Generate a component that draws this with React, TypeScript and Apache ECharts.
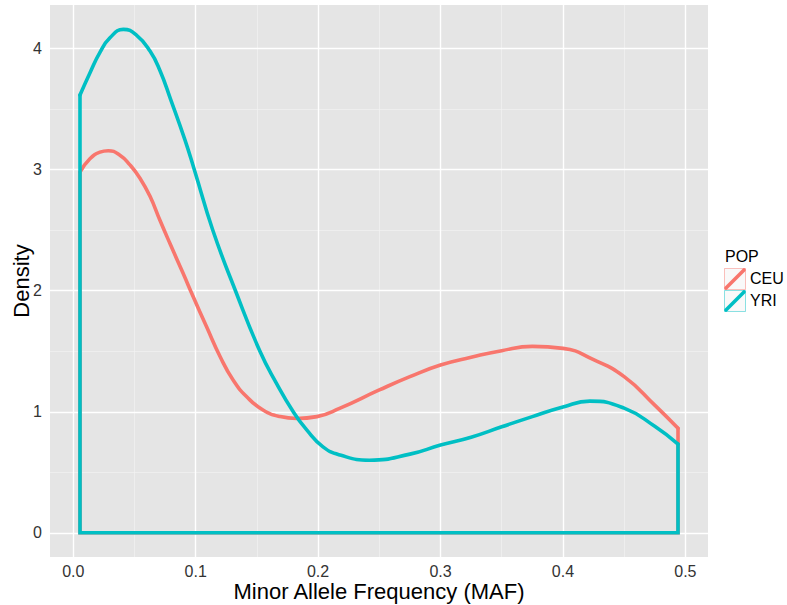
import React, { useEffect, useRef } from "react";
import * as echarts from "echarts";

const populations = ["CEU", "YRI"];
const popColors = ["#F8766D", "#00BFC4"];

const ceuMaf = [0.0055, 0.0136, 0.0218, 0.0286, 0.0381, 0.0463, 0.0545, 0.0627, 0.0709, 0.079, 0.0899, 0.098, 0.109, 0.12, 0.1307, 0.1417, 0.155, 0.169, 0.1825, 0.199, 0.218, 0.25, 0.275, 0.3, 0.325, 0.35, 0.375, 0.4, 0.425, 0.45, 0.475, 0.494];
const ceuDensity = [2.98, 3.09, 3.145, 3.157, 3.12, 3.04, 2.93, 2.78, 2.58, 2.39, 2.14, 1.95, 1.7, 1.455, 1.26, 1.124, 1.014, 0.96, 0.945, 0.96, 1.03, 1.18, 1.29, 1.386, 1.45, 1.505, 1.54, 1.524, 1.43, 1.29, 1.055, 0.863];

const yriMaf = [0.0055, 0.0136, 0.0218, 0.03, 0.0409, 0.0518, 0.0627, 0.0708, 0.0796, 0.0913, 0.0989, 0.114, 0.1325, 0.1525, 0.166, 0.1797, 0.1907, 0.204, 0.218, 0.242, 0.275, 0.3, 0.325, 0.35, 0.375, 0.4, 0.422, 0.45, 0.475, 0.494];
const yriDensity = [3.617, 3.8, 3.97, 4.09, 4.16, 4.11, 3.98, 3.82, 3.58, 3.245, 3.0, 2.5, 2.0, 1.5, 1.235, 1.0, 0.85, 0.71, 0.642, 0.6, 0.65, 0.725, 0.79, 0.876, 0.96, 1.04, 1.088, 1.03, 0.88, 0.733];

const xTicks = [0, 0.1, 0.2, 0.3, 0.4, 0.5];
const yTicks = [0, 1, 2, 3, 4];
const xMinor = [0.05, 0.15, 0.25, 0.35, 0.45];
const yMinor = [0.5, 1.5, 2.5, 3.5];

const FONT = "'Liberation Sans', Arial, sans-serif";

export default function App() {
  const ref = useRef<HTMLDivElement>(null);
  useEffect(() => {
    if (!ref.current) return;
    const chart = echarts.init(ref.current, null, { renderer: "svg" });
    const sets = [
      { name: populations[0], xs: ceuMaf, ys: ceuDensity, color: popColors[0] },
      { name: populations[1], xs: yriMaf, ys: yriDensity, color: popColors[1] },
    ];
    const series: any[] = [];
    series.push({
      type: "line",
      data: [[0, 0]],
      showSymbol: false,
      silent: true,
      lineStyle: { opacity: 0 },
      z: 1,
      markLine: {
        z: 1,
        silent: true,
        animation: false,
        symbol: ["none", "none"],
        label: { show: false },
        emphasis: { disabled: true },
        data: [
          ...xMinor.map((v) => ({ xAxis: v, lineStyle: { color: "#F2F2F2", width: 0.7, type: "solid" } })),
          ...yMinor.map((v) => ({ yAxis: v, lineStyle: { color: "#F2F2F2", width: 0.7, type: "solid" } })),
          ...xTicks.map((v) => ({ xAxis: v, lineStyle: { color: "#FFFFFF", width: 1.4, type: "solid" } })),
          ...yTicks.map((v) => ({ yAxis: v, lineStyle: { color: "#FFFFFF", width: 1.4, type: "solid" } })),
        ],
      },
    });
    sets.forEach((s, i) => {
      const pts = s.xs.map((x, k) => [x, s.ys[k]]);
      const n = s.xs.length;
      series.push({
        name: s.name,
        type: "line",
        data: pts,
        smooth: 0.5,
        showSymbol: false,
        symbol: "none",
        lineStyle: { color: s.color, width: 3.6, cap: "round", join: "round" },
        z: 3 + i * 2,
      });
      series.push({
        name: s.name + "-outline",
        type: "line",
        data: [
          [s.xs[n - 1], s.ys[n - 1]],
          [s.xs[n - 1], 0],
          [s.xs[0], 0],
          [s.xs[0], s.ys[0]],
        ],
        showSymbol: false,
        symbol: "none",
        lineStyle: { color: s.color, width: 3.6, cap: "round", join: "miter" },
        z: 3 + i * 2,
      });
    });

    const legendX = 724;
    const legendTop = 268;
    const keySize = 22;
    const graphic: any[] = [
      {
        type: "text",
        left: 725,
        top: 248,
        style: { text: "POP", font: `16px ${FONT}`, fill: "#000" },
      },
    ];
    populations.forEach((p, i) => {
      const y = legendTop + i * keySize;
      graphic.push({
        type: "rect",
        shape: { x: legendX + 0.5, y: y + 0.5, width: keySize - 1, height: keySize - 1 },
        style: { fill: "#F2F2F2", stroke: popColors[i], opacity: 0.45, lineWidth: 1 },
      });
      graphic.push({
        type: "line",
        shape: { x1: legendX + 2, y1: y + keySize - 2, x2: legendX + keySize - 2, y2: y + 2 },
        style: { stroke: popColors[i], lineWidth: 3.6, lineCap: "round" },
      });
      graphic.push({
        type: "text",
        left: legendX + keySize + 4,
        top: y + keySize / 2 - 9,
        style: { text: p, font: `16px ${FONT}`, fill: "#000" },
      });
    });

    chart.setOption({
      animation: false,
      backgroundColor: "#FFFFFF",
      textStyle: { fontFamily: FONT },
      grid: {
        left: 50,
        top: 5,
        right: 79,
        bottom: 48,
        show: true,
        backgroundColor: "#E5E5E5",
        borderWidth: 0,
        containLabel: false,
        outerBoundsMode: "none",
      },
      xAxis: {
        type: "value",
        min: -0.019,
        max: 0.5185,
        name: "Minor Allele Frequency (MAF)",
        nameLocation: "middle",
        nameGap: 23,
        nameMoveOverlap: false,
        nameTextStyle: { fontSize: 22, color: "#000", fontFamily: FONT },
        axisLine: { show: false },
        axisTick: { show: true, customValues: xTicks, length: 5, lineStyle: { color: "#333", width: 1 } },
        axisLabel: {
          customValues: xTicks,
          margin: 6,
          fontSize: 16,
          color: "#333",
          fontFamily: FONT,
          formatter: (v: number) => v.toFixed(1),
        },
        splitLine: { show: false },
      },
      yAxis: {
        type: "value",
        min: -0.2,
        max: 4.361,
        name: "Density",
        nameLocation: "middle",
        nameGap: 18,
        nameMoveOverlap: false,
        nameTextStyle: { fontSize: 22, color: "#000", fontFamily: FONT },
        axisLine: { show: false },
        axisTick: { show: true, customValues: yTicks, length: 5, lineStyle: { color: "#333", width: 1 } },
        axisLabel: {
          customValues: yTicks,
          margin: 8,
          fontSize: 16,
          color: "#333",
          fontFamily: FONT,
          formatter: (v: number) => String(Math.round(v)),
        },
        splitLine: { show: false },
      },
      series,
      graphic,
    });
    return () => chart.dispose();
  }, []);
  return <div ref={ref} style={{ width: 787, height: 605, position: "absolute", left: 0, top: 0 }} />;
}
